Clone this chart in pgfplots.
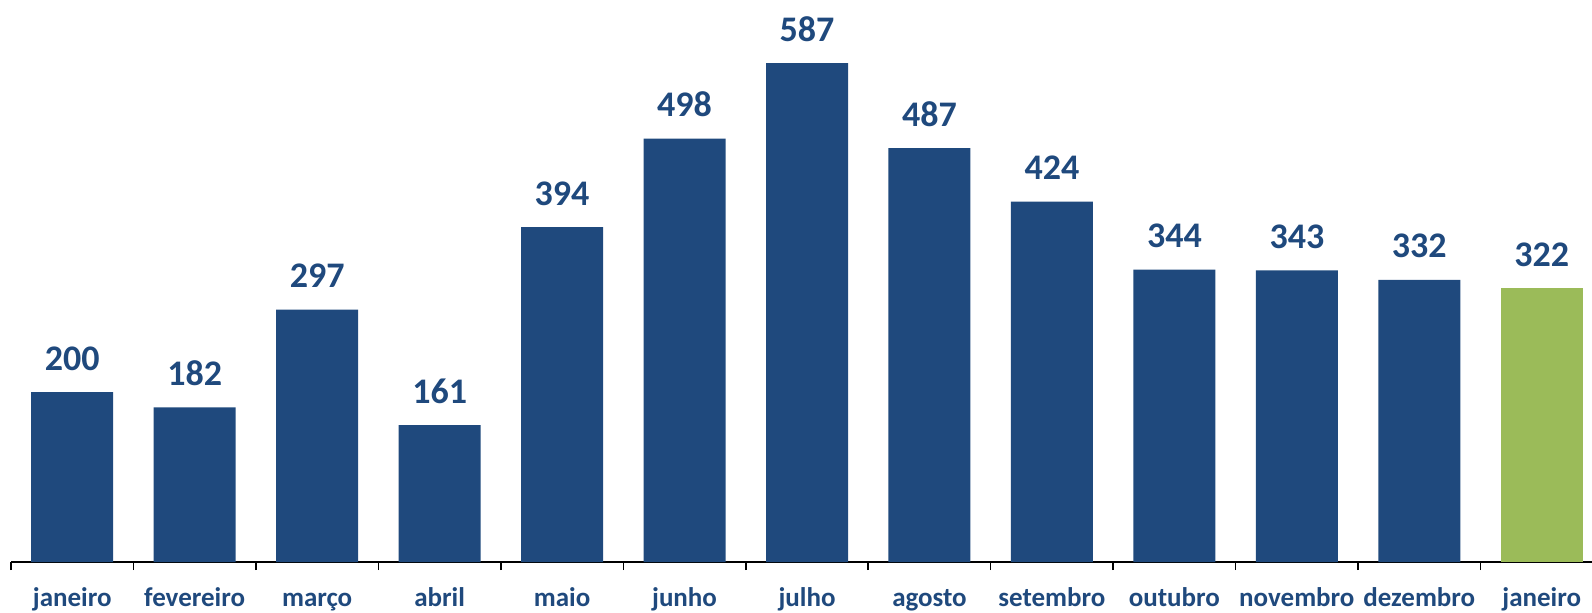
\documentclass[border=0pt]{standalone}
\usepackage{fontspec}
\setmainfont{Carlito}
\usepackage{pgfplots}
\pgfplotsset{compat=1.18}
\definecolor{barblue}{RGB}{31,73,125}
\definecolor{bargreen}{RGB}{155,187,89}
\begin{document}
\begin{tikzpicture}
\begin{axis}[
  at={(5.5pt,25pt)}, anchor=south west,
  scale only axis, width=790.5pt, height=276.25pt,
  xmin=-0.5, xmax=12.41, ymin=0, ymax=650,
  ybar, bar width=41pt,
  axis x line*=bottom, axis y line=none,
  tick align=outside,
  xtick={0,...,12},
  xticklabels={janeiro,fevereiro,março,abril,maio,junho,julho,agosto,setembro,outubro,novembro,dezembro,janeiro},
  x tick label style={font=\bfseries\fontsize{13.5}{16}\selectfont, text=barblue, anchor=base, yshift=-22pt},
  major tick length=0pt,
  extra x ticks={-0.5,0.5,1.5,2.5,3.5,4.5,5.5,6.5,7.5,8.5,9.5,10.5,11.5},
  extra x tick labels={},
  extra x tick style={major tick length=4pt, tick style={black, line width=0.75pt}},
  x axis line style={black, line width=0.75pt},
  /pgf/number format/assume math mode=true,
  nodes near coords={\pgfmathprintnumber{\pgfplotspointmeta}},
  nodes near coords style={font=\bfseries\fontsize{18}{20}\selectfont, text=barblue, anchor=base, yshift=11pt},
  clip=false,
]
\addplot[fill=barblue, draw=none, bar shift=0pt] coordinates {
  (0,200) (1,182) (2,297) (3,161) (4,394) (5,498) (6,587) (7,487) (8,424) (9,344) (10,343) (11,332)};
\addplot[fill=bargreen, draw=none, bar shift=0pt] coordinates {(12,322)};
\end{axis}
\pgfresetboundingbox
\path[use as bounding box] (0,0) rectangle (796pt,306pt);
\end{tikzpicture}
\end{document}
